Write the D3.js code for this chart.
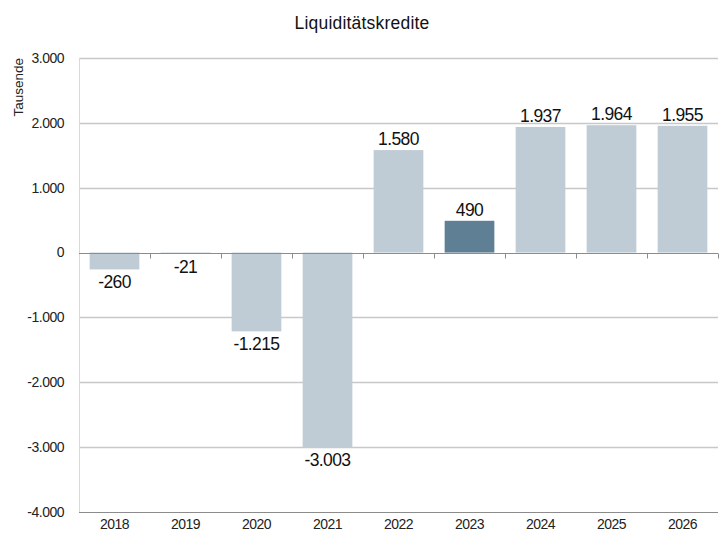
<!DOCTYPE html>
<html>
<head>
<meta charset="utf-8">
<script src="https://cdn.jsdelivr.net/npm/d3@7"></script>
<style>
  body { margin: 0; background: #fff; }
  svg { display: block; font-family: "Liberation Sans", Arial, sans-serif; }
</style>
</head>
<body>
<div id="chart"></div>
<script>
const years = ["2018", "2019", "2020", "2021", "2022", "2023", "2024", "2025", "2026"];
const values = [-260, -21, -1215, -3003, 1580, 490, 1937, 1964, 1955];
const highlight = ["2023"];
const yTicks = [3000, 2000, 1000, 0, -1000, -2000, -3000, -4000];

const width = 719, height = 535;
const m = { t: 58, r: 1, b: 23, l: 79 };
const de = d3.formatLocale({ decimal: ",", thousands: ".", grouping: [3], currency: ["", " €"], minus: "-" });
const fmt = de.format(",");

const svg = d3.select("#chart").append("svg").attr("width", width).attr("height", height);

const x = d3.scaleBand().domain(years).range([m.l, width - m.r]).paddingInner(0.3).paddingOuter(0.15);
const y = d3.scaleLinear().domain([-4000, 3000]).range([height - m.b, m.t]);

// gridlines
svg.append("g").selectAll("line")
  .data(yTicks.filter(d => d !== 0 && d !== -4000)).enter().append("line")
  .attr("x1", m.l).attr("x2", width - m.r)
  .attr("y1", d => Math.round(y(d)) + 0.5).attr("y2", d => Math.round(y(d)) + 0.5)
  .attr("stroke", "#c8c8c8").attr("stroke-width", 1.3);

// left axis line
svg.append("line")
  .attr("x1", m.l + 0.5).attr("x2", m.l + 0.5)
  .attr("y1", y(3000)).attr("y2", y(-4000))
  .attr("stroke", "#d9d9d9");

// bottom line
svg.append("line")
  .attr("x1", m.l).attr("x2", width - m.r)
  .attr("y1", Math.round(y(-4000)) + 0.5).attr("y2", Math.round(y(-4000)) + 0.5)
  .attr("stroke", "#8c8c8c").attr("stroke-width", 1.2);

// y tick labels
svg.append("g").selectAll("text")
  .data(yTicks).enter().append("text")
  .attr("x", m.l - 15).attr("y", d => y(d)).attr("dy", "0.35em")
  .attr("text-anchor", "end").attr("font-size", 14).attr("fill", "#222")
  .attr("letter-spacing", "-0.5")
  .text(fmt);

// axis title
svg.append("text")
  .attr("transform", `translate(23,${m.t}) rotate(-90)`)
  .attr("text-anchor", "end").attr("font-size", 13.5).attr("fill", "#222")
  .text("Tausende");

// bars
svg.append("g").selectAll("rect")
  .data(years).enter().append("rect")
  .attr("x", d => x(d)).attr("width", x.bandwidth())
  .attr("y", (d, i) => y(Math.max(0, values[i])))
  .attr("height", (d, i) => Math.abs(y(values[i]) - y(0)))
  .attr("fill", d => highlight.includes(d) ? "#5f7f95" : "#bfccd5");

// zero line with ticks
const zy = Math.round(y(0)) + 0.5;
svg.append("line")
  .attr("x1", m.l).attr("x2", width - m.r).attr("y1", zy).attr("y2", zy)
  .attr("stroke", "#8c8c8c").attr("stroke-width", 1.2);
const step = x.step();
const bounds = years.map((d, i) => x(d) - step * x.paddingInner() / 2).slice(1).concat([width - m.r - 0.5]);
svg.append("g").selectAll("line")
  .data(bounds).enter().append("line")
  .attr("x1", d => Math.round(d) + 0.5).attr("x2", d => Math.round(d) + 0.5)
  .attr("y1", zy).attr("y2", zy + 5)
  .attr("stroke", "#8c8c8c");

// value labels
svg.append("g").selectAll("text")
  .data(years).enter().append("text")
  .attr("x", d => x(d) + x.bandwidth() / 2)
  .attr("y", (d, i) => values[i] >= 0 ? y(values[i]) - 5 : y(values[i]) + 19)
  .attr("text-anchor", "middle").attr("font-size", 17.5).attr("fill", "#111")
  .attr("letter-spacing", "-0.6")
  .text((d, i) => fmt(values[i]));

// x labels
svg.append("g").selectAll("text")
  .data(years).enter().append("text")
  .attr("x", d => x(d) + x.bandwidth() / 2)
  .attr("y", height - 6)
  .attr("text-anchor", "middle").attr("font-size", 14).attr("fill", "#222")
  .attr("letter-spacing", "-0.5")
  .text(d => d);

// title
svg.append("text")
  .attr("x", 362).attr("y", 29)
  .attr("text-anchor", "middle").attr("font-size", 17.5).attr("fill", "#111")
  .attr("letter-spacing", "0.2")
  .text("Liquiditätskredite");
</script>
</body>
</html>
